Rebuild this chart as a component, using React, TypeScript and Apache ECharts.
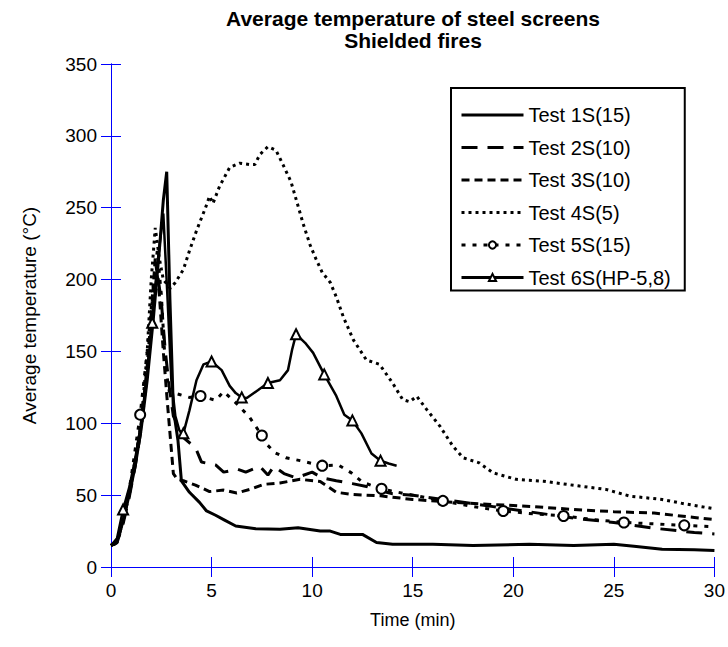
import React, { useEffect, useRef } from "react";
import * as echarts from "echarts";

const titleLines = ["Average temperature of steel screens", "Shielded fires"];
const xName = "Time (min)";
const yName = "Average temperature (°C)";
const seriesNames = ["Test 1S(15)", "Test 2S(10)", "Test 3S(10)", "Test 4S(5)", "Test 5S(15)", "Test 6S(HP-5,8)"];

const test1S: [number, number][] = [
  [0, 15], [0.2, 16], [0.4, 22], [0.6, 32], [0.9, 50], [1.2, 70], [1.5, 96], [1.8, 130], [2.1, 172],
  [2.4, 220], [2.6, 255], [2.77, 275], [2.93, 186], [3.1, 110], [3.33, 88], [3.5, 60], [3.9, 52],
  [4.4, 45], [4.75, 39], [5.2, 36], [5.6, 33], [6.2, 28.5], [7.2, 26.6], [8.4, 26.2], [9.3, 27.3],
  [10.4, 25], [10.9, 25], [11.4, 22.7], [12.5, 22.7], [13.2, 17], [14, 15.8], [16, 15.8], [18, 15],
  [20.8, 15.8], [23, 15], [25, 15.8], [26, 14.5], [27.4, 12.3], [29, 12], [30, 11.5],
];

const test2S: [number, number][] = [
  [0, 15], [0.3, 17], [0.6, 30], [0.9, 48], [1.2, 70], [1.5, 96], [1.8, 135], [2.1, 180], [2.3, 205],
  [2.5, 185], [2.7, 150], [2.9, 125], [3.1, 105], [3.35, 98], [3.6, 90], [4.2, 83], [4.5, 73],
  [5.2, 71], [5.6, 66], [6.3, 68], [6.7, 66], [7.4, 70], [7.8, 64], [8.1, 70], [8.6, 65], [9.2, 62],
  [10.0, 66], [10.5, 62], [11.2, 60], [12.0, 58], [12.7, 56], [13.4, 53], [14, 51], [15, 50],
  [17, 46], [19, 42], [21, 38], [23, 34], [25, 31], [27, 27], [29, 24], [30, 23],
];

const test3S: [number, number][] = [
  [0, 15], [0.3, 17], [0.6, 32], [0.9, 50], [1.2, 72], [1.5, 100], [1.8, 140], [2.05, 185], [2.2, 215],
  [2.4, 190], [2.6, 150], [2.8, 115], [2.95, 90], [3.1, 65], [3.3, 61], [3.6, 60], [4.2, 57],
  [4.9, 52.5], [5.6, 53.5], [6.25, 51.5], [6.9, 54], [7.6, 57.5], [8.4, 58.5], [9.4, 61], [10.4, 59.5],
  [11.2, 52], [12.0, 50.5], [13.4, 49.5], [15, 47], [17, 45], [19, 43.5], [21, 42], [23, 40],
  [25, 38.5], [27, 37.5], [29, 34.5], [30, 33],
];

const test4S: [number, number][] = [
  [0, 15], [0.3, 18], [0.6, 33], [0.9, 52], [1.2, 74], [1.5, 100], [1.8, 150], [2.0, 200], [2.2, 236],
  [2.4, 215], [2.6, 200], [2.95, 194], [3.2, 198], [3.6, 207], [3.9, 220], [4.25, 234], [4.7, 250],
  [4.9, 258], [5.07, 253], [5.4, 265], [5.9, 278], [6.4, 281], [6.9, 280], [7.15, 280], [7.4, 287],
  [7.8, 292.5], [8.2, 290], [8.55, 280], [8.95, 268], [9.2, 256], [9.55, 239], [9.9, 224], [10.2, 214],
  [10.5, 205], [10.9, 198], [11.2, 188], [11.55, 174], [12.05, 158], [12.7, 144], [13.35, 141],
  [14.0, 128], [14.5, 116.5], [14.85, 115], [15.2, 118.8], [15.7, 109.5], [16.35, 98], [17.0, 84],
  [17.5, 76], [18.3, 72.5], [19.0, 65.5], [20.15, 61], [21.5, 59.7], [23.3, 56.3], [24.6, 54],
  [25.8, 49.3], [27.4, 47], [28.5, 44], [30, 40.5],
];

const test5S: [number, number][] = [
  [0, 15], [0.3, 18], [0.7, 38], [1.0, 62], [1.45, 106], [1.8, 150], [2.1, 195], [2.3, 220], [2.5, 190],
  [2.7, 140], [2.9, 122], [3.4, 120], [3.9, 118], [4.45, 119], [5.2, 116], [5.6, 122], [6.3, 113],
  [6.9, 104], [7.5, 91.5], [7.7, 86], [8.15, 79.5], [8.7, 76], [9.4, 74], [10.0, 72], [10.5, 70.5],
  [11.3, 71], [11.95, 65.5], [12.5, 59], [13.45, 54.4], [13.9, 53], [15, 50], [16.5, 46], [18, 42],
  [19.5, 39], [21, 37], [22.5, 35.5], [24, 33], [25.5, 31], [27, 30], [28.5, 29], [30, 28],
];
const marks5S = [1.45, 4.45, 7.5, 10.5, 13.45, 16.5, 19.5, 22.5, 25.5, 28.5];

const test6S: [number, number][] = [
  [0, 15], [0.3, 20], [0.6, 40], [0.9, 55], [1.2, 75], [1.5, 100], [1.8, 135], [2.05, 170], [2.3, 210],
  [2.6, 246], [2.8, 190], [3.0, 130], [3.2, 105], [3.4, 95], [3.6, 93], [3.9, 109], [4.25, 130],
  [4.6, 141], [5.0, 143], [5.5, 137], [5.9, 126], [6.2, 121], [6.5, 118], [6.75, 117.6], [7.3, 123],
  [7.8, 128], [8.4, 130], [8.8, 137], [9.0, 151], [9.2, 162], [9.65, 156], [10.05, 149], [10.6, 134],
  [11.2, 119], [11.6, 106], [12.0, 102], [12.45, 93], [12.95, 79], [13.4, 74], [13.8, 72], [14.2, 70.5],
];
const marks6S = [0.6, 2.05, 3.6, 5.0, 6.5, 7.8, 9.2, 10.6, 12.0, 13.4];

const FONT = "'Liberation Sans', Arial, sans-serif";
const BLUE = "#0000ff";

function withMarks(pts: [number, number][], marks: number[]) {
  return pts.map(([t, v]) =>
    marks.includes(t) ? { value: [t, v] } : { value: [t, v], symbol: "none" }
  );
}

export default function App() {
  const ref = useRef<HTMLDivElement>(null);
  useEffect(() => {
    document.body.style.margin = "0";
    if (!ref.current) return;
    const chart = echarts.init(ref.current, null, { renderer: "svg" });
    const axisCommon = {
      axisLine: { show: true, lineStyle: { color: BLUE, width: 1 } },
      axisTick: { show: true, inside: true, length: 10, lineStyle: { color: BLUE, width: 1 } },
      splitLine: { show: false },
    };
    const lineBase = (name: string, data: any, width: number, type: any, extra: any = {}) => ({
      name,
      type: "line",
      data,
      symbol: "none",
      lineStyle: { color: "#000", width, type },
      itemStyle: { color: "rgba(0,0,0,0)" },
      z: 3,
      ...extra,
    });
    const titleText = (text: string, y: number) => ({
      type: "text",
      x: 413,
      y,
      style: {
        text,
        align: "center",
        verticalAlign: "middle",
        fontSize: 21,
        fontWeight: "bold",
        fontFamily: FONT,
        fill: "#000",
      },
    });
    chart.setOption({
      animation: false,
      backgroundColor: "#fff",
      textStyle: { fontFamily: FONT },
      grid: { left: 111, right: 13, top: 64, bottom: 80 },
      graphic: [titleText(titleLines[0], 18), titleText(titleLines[1], 40)],
      legend: {
        orient: "vertical",
        left: 451,
        top: 88,
        padding: [17, 14, 3, 9],
        itemWidth: 62,
        itemHeight: 9,
        itemGap: 12.5,
        borderColor: "#000",
        borderWidth: 2,
        backgroundColor: "#fff",
        lineStyle: { width: 3 },
        textStyle: { fontSize: 20, color: "#000", fontFamily: FONT },
        data: seriesNames,
      },
      xAxis: [
        {
          type: "value",
          min: 0,
          max: 30,
          interval: 5,
          position: "bottom",
          ...axisCommon,
          axisLabel: { fontSize: 19, color: "#000", margin: 14, fontFamily: FONT },
          name: xName,
          nameLocation: "middle",
          nameGap: 44,
          nameTextStyle: { fontSize: 18, color: "#000", fontFamily: FONT },
        },
        {
          type: "value",
          min: 0,
          max: 30,
          interval: 5,
          position: "top",
          ...axisCommon,
          axisLabel: { show: false },
        },
      ],
      yAxis: [
        {
          type: "value",
          min: 0,
          max: 350,
          interval: 50,
          position: "left",
          ...axisCommon,
          axisLabel: { fontSize: 19, color: "#000", margin: 14, fontFamily: FONT },
          name: yName,
          nameLocation: "middle",
          nameGap: 72,
          nameTextStyle: { fontSize: 19, color: "#000", fontFamily: FONT },
        },
        {
          type: "value",
          min: 0,
          max: 350,
          interval: 50,
          position: "right",
          ...axisCommon,
          axisLabel: { show: false },
        },
      ],
      series: [
        lineBase(seriesNames[0], test1S, 3, "solid"),
        lineBase(seriesNames[1], test2S, 3, [16, 10]),
        lineBase(seriesNames[2], test3S, 3, [8, 5]),
        lineBase(seriesNames[3], test4S, 3, [3, 4]),
        lineBase(seriesNames[4], withMarks(test5S, marks5S), 3, [4, 7], {
          symbol: "emptyCircle",
          symbolSize: 10,
          showSymbol: true,
          itemStyle: { color: "#000", borderColor: "#000", borderWidth: 1 },
        }),
        lineBase(seriesNames[5], withMarks(test6S, marks6S), 2.5, "solid", {
          symbol: "emptyTriangle",
          symbolSize: 10,
          showSymbol: true,
          itemStyle: { color: "#000", borderColor: "#000", borderWidth: 1 },
        }),
      ],
    });
    return () => chart.dispose();
  }, []);
  return <div ref={ref} style={{ width: 728, height: 647 }} />;
}
